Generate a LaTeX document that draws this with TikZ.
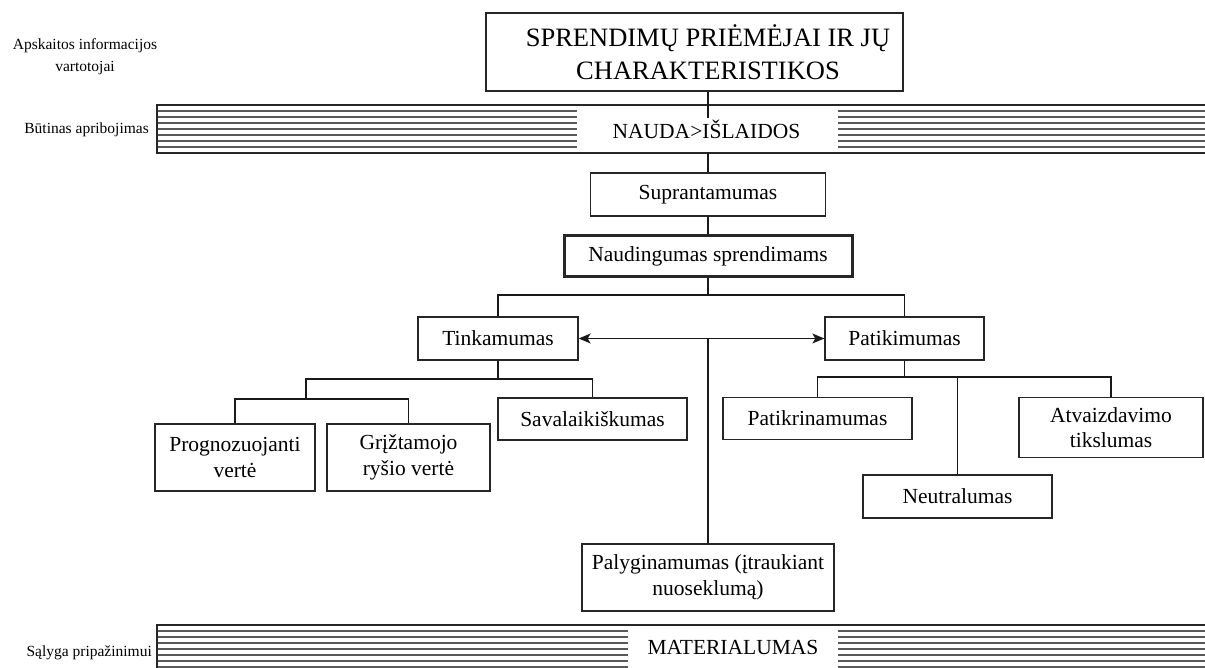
\documentclass[tikz,border=0pt]{standalone}
\usepackage{fontspec}
\setmainfont{Liberation Serif}
\usetikzlibrary{arrows.meta}
\tikzset{
  box/.style={draw=black!85, line width=1.3pt, fill=white, inner sep=0pt, align=center,
              font=\fontsize{21.5}{25.5}\selectfont},
  thickbox/.style={box, line width=3pt},
  barlabel/.style={fill=white, inner sep=0pt, font=\fontsize{21.5}{25.5}\selectfont},
  sidelabel/.style={inner sep=0pt, align=center, font=\fontsize{15.5}{22}\selectfont},
  hatch/.style={draw=black!65, line width=1.3pt},
  barborder/.style={draw=black!85, line width=2.6pt},
  conn/.style={draw=black!90, line width=1.3pt},
  dblarrow/.style={conn, {Stealth[length=12pt,width=10pt,inset=3pt]}-{Stealth[length=12pt,width=10pt,inset=3pt]}}
}
\begin{document}
\begin{tikzpicture}[x=1pt,y=-1pt]
\useasboundingbox (0,0) rectangle (1205,668);

% side labels
\node[sidelabel] (lab1) at (85,57) {Apskaitos informacijos\\vartotojai};
\node[sidelabel, anchor=east] (lab2) at (149,130) {Būtinas apribojimas};
\node[sidelabel, anchor=east] (lab3) at (152,653) {Sąlyga pripažinimui};

% top bar (NAUDA>IŠLAIDOS)
\foreach \yy in {111,117,...,147} \draw[hatch] (157,\yy) -- (1208,\yy);
\node[barlabel, minimum width=261pt, minimum height=44pt] (nauda) at (707.5,129) {};
\node[barlabel] (naudatext) at (706.5,129) {NAUDA>IŠLAIDOS};
\draw[barborder] (1208,105) -- (157,105) -- (157,153) -- (1208,153);
\coordinate (stub) at (708,118);
\coordinate (barbot) at (708,153);

% bottom bar (MATERIALUMAS)
\foreach \yy in {631,637,...,673} \draw[hatch] (157,\yy) -- (1208,\yy);
\node[barlabel, minimum width=210pt, minimum height=44pt, anchor=north] (mater) at (733,627) {};
\node[barlabel] (matertext) at (733,647) {MATERIALUMAS};
\draw[barborder, line width=1.8pt] (1208,625) -- (157,625) -- (157,675);

% title
\node[box, minimum width=417pt, minimum height=78pt] (title) at (694.5,52) {};
\node[inner sep=0pt, align=center, font=\fontsize{26.5}{33}\selectfont] (titletext) at (708,52)
  {SPRENDIMŲ PRIĖMĖJAI IR JŲ\\CHARAKTERISTIKOS};

% boxes
\node[box, minimum width=235pt, minimum height=43pt] (supr) at (708,194.5) {Suprantamumas};
\node[thickbox, minimum width=288pt, minimum height=41pt] (naud) at (708,256) {Naudingumas sprendimams};
\node[box, minimum width=160pt, minimum height=43pt] (tink) at (498,338.5) {Tinkamumas};
\node[box, minimum width=159pt, minimum height=43pt] (patik) at (904.5,338.5) {Patikimumas};
\node[box, minimum width=160pt, minimum height=67pt] (prog) at (235,457.5) {Prognozuojanti\\vertė};
\node[box, minimum width=163pt, minimum height=67pt] (grizt) at (408.5,457.5) {Grįžtamojo\\ryšio vertė};
\node[box, minimum width=189pt, minimum height=42pt] (saval) at (592.5,419) {Savalaikiškumas};
\node[box, minimum width=189pt, minimum height=42pt] (patikr) at (817.5,418.5) {Patikrinamumas};
\node[box, minimum width=184pt, minimum height=60pt] (atv) at (1111,427.5) {Atvaizdavimo\\tikslumas};
\node[box, minimum width=189pt, minimum height=43pt] (neutr) at (957.5,496.5) {Neutralumas};
\node[box, minimum width=252pt, minimum height=67pt] (palyg) at (708,577.5) {Palyginamumas (įtraukiant\\nuoseklumą)};

% connectors
\draw[conn] (titletext |- title.south) -- (stub);
\draw[conn] (barbot) -- (supr.north);
\draw[conn] (supr.south) -- (naud.north);
\coordinate (j1) at (708,295);
\draw[conn] (naud.south) -- (j1);
\draw[conn] (tink.north) |- (j1) -| (patik.north);

\coordinate (j2) at (498,379);
\coordinate (j3) at (306,379);
\coordinate (j4) at (306,399);
\draw[conn] (tink.south) -- (j2);
\draw[conn] (j4) -- (j3) -| (saval.north);
\draw[conn] (prog.north) |- (j4) -| (grizt.north);

\coordinate (j5) at (904.5,377);
\draw[conn] (patik.south) -- (j5);
\draw[conn] (patikr.north) |- (j5) -| (atv.north);
\draw[conn] (neutr.north) -- (neutr.north |- j5);

\draw[dblarrow] (tink.east) -- (patik.west);
\draw[conn] (palyg.north) -- (palyg.north |- tink.east);
\end{tikzpicture}
\end{document}
